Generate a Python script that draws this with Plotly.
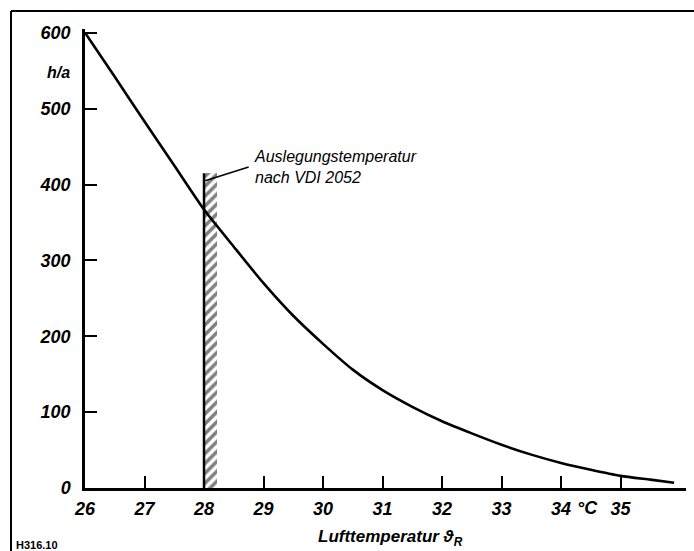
import plotly.graph_objects as go

# curve: hours per year above air temperature
temp = [26, 26.5, 27, 27.5, 28, 28.5, 29, 29.5, 30, 30.5, 31, 31.5, 32, 32.5,
        33, 33.5, 34, 34.5, 35, 35.5, 35.9]
hours = [600, 542, 483, 425, 367, 318, 270, 227, 190, 156, 129, 107, 88, 72,
         57, 44, 33, 24, 16, 11, 7]

# design temperature band (hatched)
band_start = 28.0
band_width = 0.22
band_height = 415

x_ticks = [26, 27, 28, 29, 30, 31, 32, 33, 34, 35]
y_ticks = [0, 100, 200, 300, 400, 500, 600]

FONT = "Liberation Sans, Arial, Helvetica, sans-serif"

fig = go.Figure()

fig.add_trace(go.Bar(
    x=[band_start + band_width / 2], y=[band_height], width=[band_width],
    marker=dict(color="white", line=dict(width=0),
                pattern=dict(shape="/", fgcolor="black", bgcolor="white",
                             size=7, solidity=0.5)),
    showlegend=False, hoverinfo="skip"))

fig.add_trace(go.Scatter(
    x=[band_start, band_start], y=[0, band_height], mode="lines",
    line=dict(color="black", width=2.5), showlegend=False, hoverinfo="skip"))

fig.add_trace(go.Scatter(
    x=temp, y=hours, mode="lines", line=dict(color="black", width=2.6, shape="spline", smoothing=0.6),
    showlegend=False, hoverinfo="skip"))

tickfont = dict(family=FONT, size=18, color="black", weight="bold", style="italic")

fig.update_layout(
    width=694, height=551,
    margin=dict(l=85, r=8, t=29, b=63),
    paper_bgcolor="white", plot_bgcolor="white",
    bargap=0,
    xaxis=dict(range=[26, 36.1], tickvals=x_ticks, ticktext=[f"<i>{v}</i>" for v in x_ticks],
               ticks="inside", ticklen=12, tickwidth=1.5, tickcolor="black",
               showline=True, linecolor="black", linewidth=2.5,
               showgrid=False, zeroline=False, tickfont=tickfont,
               ticklabelstandoff=3),
    yaxis=dict(range=[0, 605], tickvals=y_ticks, ticktext=[f"<i>{v}</i>" for v in y_ticks],
               ticks="inside", ticklen=12, tickwidth=1.5, tickcolor="black",
               showline=True, linecolor="black", linewidth=2.5,
               showgrid=False, zeroline=False, tickfont=tickfont,
               ticklabelstandoff=8),
)

# outer frame
fig.add_shape(type="line", xref="paper", yref="paper",
              x0=(11 - 85) / 601, x1=(11 - 85) / 601, y0=(488 - 11) / 459, y1=(488 - 551) / 459,
              line=dict(color="black", width=2))
fig.add_shape(type="line", xref="paper", yref="paper",
              x0=(11 - 85) / 601, x1=(694 - 85) / 601, y0=(488 - 11) / 459, y1=(488 - 11) / 459,
              line=dict(color="black", width=2))

# annotation leader line
fig.add_shape(type="line", xref="x", yref="y",
              x0=band_start + 0.02, y0=band_height - 10,
              x1=band_start + 0.75, y1=band_height + 8,
              line=dict(color="black", width=1.5))

fig.add_annotation(x=band_start + 0.8, y=band_height + 8, xref="x", yref="y",
                   text="Auslegungstemperatur<br>nach VDI 2052", showarrow=False,
                   xanchor="left", yanchor="middle", align="left",
                   font=dict(family=FONT, size=16, color="black", style="italic"))

fig.add_annotation(x=-0.022, y=548 / 605, xref="paper", yref="paper",
                   text="<i>h/a</i>", showarrow=False, xanchor="right", yanchor="middle",
                   font=dict(family=FONT, size=16, color="black", weight="bold", style="italic"))

fig.add_annotation(x=34.45, y=0, xref="x", yref="y", yshift=-20,
                   text="<i>°C</i>", showarrow=False, xanchor="center", yanchor="middle",
                   font=dict(family=FONT, size=18, color="black", weight="bold", style="italic"))

fig.add_annotation(x=(390 - 85) / 601, y=(488 - 538) / 459, xref="paper", yref="paper",
                   text="<i>Lufttemperatur ϑ<sub>R</sub></i>", showarrow=False,
                   xanchor="center", yanchor="middle",
                   font=dict(family=FONT, size=17, color="black", weight="bold", style="italic"))

fig.add_annotation(x=(14 - 85) / 601, y=(488 - 545) / 459, xref="paper", yref="paper",
                   text="H316.10", showarrow=False, xanchor="left", yanchor="middle",
                   font=dict(family=FONT, size=11, color="black", weight="bold"))

fig.write_html("out.html")
